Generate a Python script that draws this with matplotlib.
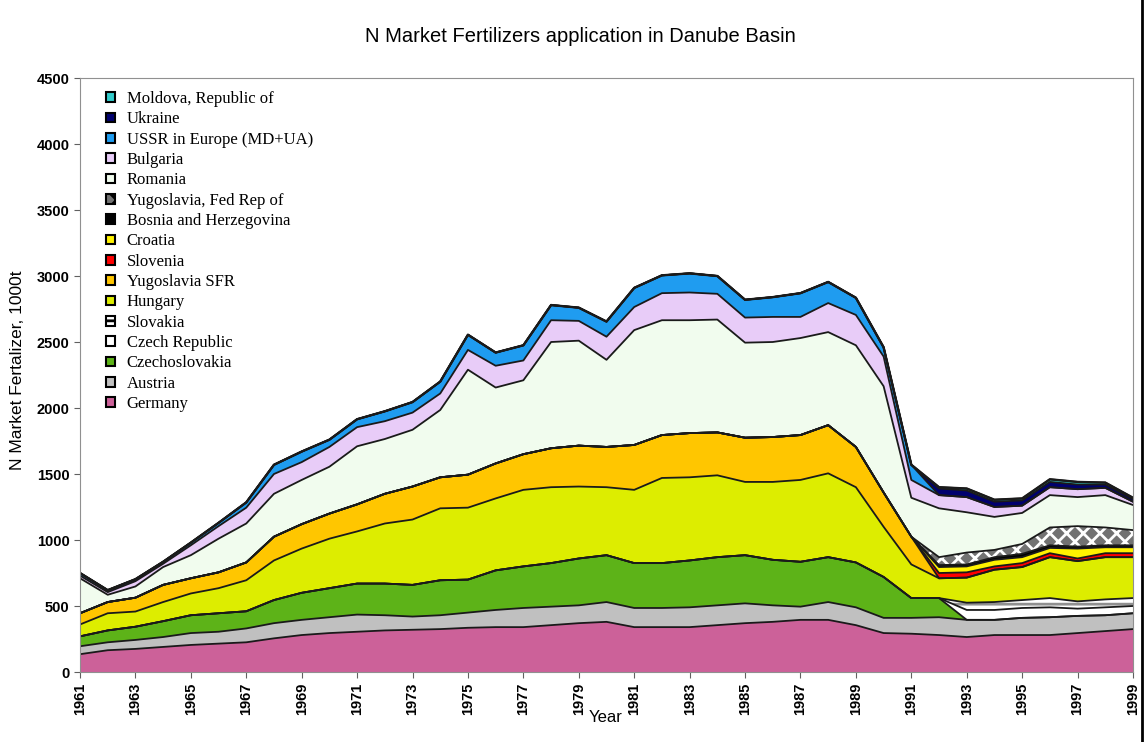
import numpy as np
import matplotlib
matplotlib.use("Agg")
import matplotlib.pyplot as plt
from matplotlib.patches import Patch
from matplotlib.lines import Line2D

years = list(range(1961, 2000))

# N fertilizer use, 1000 t, per country
germany = [135, 165, 175, 190, 205, 215, 225, 255, 280, 295, 305, 315, 320, 325, 335, 340, 340, 355, 370, 380,
           340, 340, 340, 355, 370, 380, 395, 395, 355, 295, 290, 280, 265, 280, 280, 280, 295, 310, 325]
austria = [60, 60, 68, 75, 90, 90, 105, 115, 115, 120, 130, 115, 100, 105, 115, 130, 145, 140, 135, 150,
           145, 145, 150, 150, 150, 125, 100, 135, 135, 115, 120, 135, 130, 115, 130, 135, 130, 120, 120]
czechoslovakia = [75, 90, 100, 120, 135, 140, 130, 175, 205, 220, 235, 240, 240, 265, 250, 300, 315, 330, 355, 355,
                  340, 340, 355, 365, 365, 345, 340, 340, 340, 310, 150, 145, 0, 0, 0, 0, 0, 0, 0]
czech_rep = [0] * 32 + [75, 75, 75, 75, 55, 60, 55]
slovakia = [0] * 32 + [55, 60, 60, 70, 55, 60, 60]
hungary = [90, 130, 115, 145, 165, 190, 235, 300, 335, 375, 395, 455, 495, 545, 545, 545, 580, 575, 545, 515,
           555, 645, 630, 620, 555, 590, 620, 635, 570, 380, 255, 150, 190, 245, 250, 310, 305, 320, 310]
yugoslavia_sfr = [85, 85, 105, 130, 115, 120, 135, 180, 185, 190, 205, 225, 250, 235, 250, 265, 270, 295, 310, 305,
                  340, 325, 335, 325, 335, 340, 340, 365, 305, 260, 210, 0, 0, 0, 0, 0, 0, 0, 0]
slovenia = [0] * 31 + [40, 40, 25, 30, 30, 20, 30, 30]
croatia = [0] * 31 + [45, 45, 50, 45, 40, 75, 45, 45]
bosnia = [0] * 31 + [15, 15, 20, 25, 20, 15, 15, 15]
yugoslavia_fr = [0] * 31 + [60, 90, 55, 75, 135, 155, 135, 115]
romania = [265, 55, 85, 135, 175, 255, 295, 325, 335, 355, 440, 415, 430, 510, 795, 575, 560, 805, 795, 660,
           870, 870, 855, 855, 720, 720, 735, 705, 770, 805, 295, 370, 305, 250, 235, 245, 220, 245, 190]
bulgaria = [20, 20, 40, 25, 75, 95, 120, 150, 135, 150, 145, 135, 130, 125, 150, 165, 150, 165, 150, 175,
            175, 205, 210, 195, 190, 190, 160, 220, 230, 225, 135, 100, 115, 75, 55, 60, 60, 55, 25]
ussr = [20, 15, 15, 15, 20, 25, 40, 70, 80, 55, 60, 75, 80, 90, 115, 100, 115, 115, 100, 115,
        145, 135, 145, 135, 135, 150, 180, 160, 130, 70, 115, 0, 0, 0, 0, 0, 0, 0, 0]
ukraine = [0] * 31 + [50, 50, 40, 40, 40, 35, 25, 20]
moldova = [0] * 31 + [10, 15, 15, 15, 20, 20, 15, 10]

names = ["Germany", "Austria", "Czechoslovakia", "Czech Republic", "Slovakia", "Hungary",
         "Yugoslavia SFR", "Slovenia", "Croatia", "Bosnia and Herzegovina", "Yugoslavia, Fed Rep of",
         "Romania", "Bulgaria", "USSR in Europe (MD+UA)", "Ukraine", "Moldova, Republic of"]
series = [germany, austria, czechoslovakia, czech_rep, slovakia, hungary, yugoslavia_sfr, slovenia,
          croatia, bosnia, yugoslavia_fr, romania, bulgaria, ussr, ukraine, moldova]
colors = ["#CC6199", "#C0C0C0", "#5DB318", "#FFFFFF", "#FFFFFF", "#DDED00", "#FFC600", "#FF0000",
          "#FFF200", "#000000", "#727272", "#F1FCEE", "#E8CCF8", "#1F9CF0", "#00006E", "#33CCCC"]
hatches = {4: ("--", "#909090"), 10: ("xx", "#FFFFFF")}

plt.rcParams['hatch.linewidth'] = 2.0

fig = plt.figure(figsize=(11.45, 7.42), dpi=100)
ax = fig.add_axes([80 / 1145, 70 / 742, 1053 / 1145, 594 / 742])

polys = ax.stackplot(years, *series, colors=colors, linewidth=0)
for i, (h, hc) in hatches.items():
    polys[i].set_hatch(h)
    polys[i].set_edgecolor(hc)

cum = np.cumsum(np.array(series), axis=0)
for row in cum:
    ax.plot(years, row, color="#1a1a1a", lw=1.3)
ax.plot(years, cum[-1], color="#1a1a1a", lw=1.7)

ax.set_xlim(1961, 1999)
ax.set_ylim(0, 4500)
ax.set_xticks(range(1961, 2000, 2))
ax.set_xticklabels([str(y) for y in range(1961, 2000, 2)], rotation=90,
                   fontsize=10.5, fontweight="bold", family="Liberation Sans")
ax.set_yticks(range(0, 4501, 500))
ax.set_yticklabels([str(v) for v in range(0, 4501, 500)], fontsize=10.5,
                   fontweight="bold", family="Liberation Sans")
for s in ax.spines.values():
    s.set_color("#909090")
ax.tick_params(colors="#606060", length=4, labelcolor="black")

handles = []
for i in range(len(names) - 1, -1, -1):
    hatch = hatches.get(i, (None, None))[0]
    handles.append(Patch(facecolor=colors[i], edgecolor="black", linewidth=1.5, hatch=hatch))
ax.legend(handles, [names[i] for i in range(len(names) - 1, -1, -1)], loc="upper left",
          bbox_to_anchor=(0.025, 0.978), frameon=False, borderaxespad=0, borderpad=0,
          prop={"family": "Liberation Serif", "size": 12}, handlelength=0.52, handleheight=0.52,
          handletextpad=0.7, labelspacing=0.26)

fig.text(580 / 1145, 1 - 37 / 742, "N Market Fertilizers application in Danube Basin",
         ha="center", va="center", fontsize=14.5, family="Liberation Sans")
fig.text(18 / 1145, 1 - 370 / 742, "N Market Fertalizer, 1000t", rotation=90,
         ha="center", va="center", fontsize=12.5, family="Liberation Sans")
fig.text(606 / 1145, 1 - 717 / 742, "Year", ha="center", va="center", fontsize=12,
         family="Liberation Sans")
fig.add_artist(Line2D([0.9975, 0.9975], [0, 1], transform=fig.transFigure, color="black", lw=2))

fig.savefig("out.png", dpi=100)
